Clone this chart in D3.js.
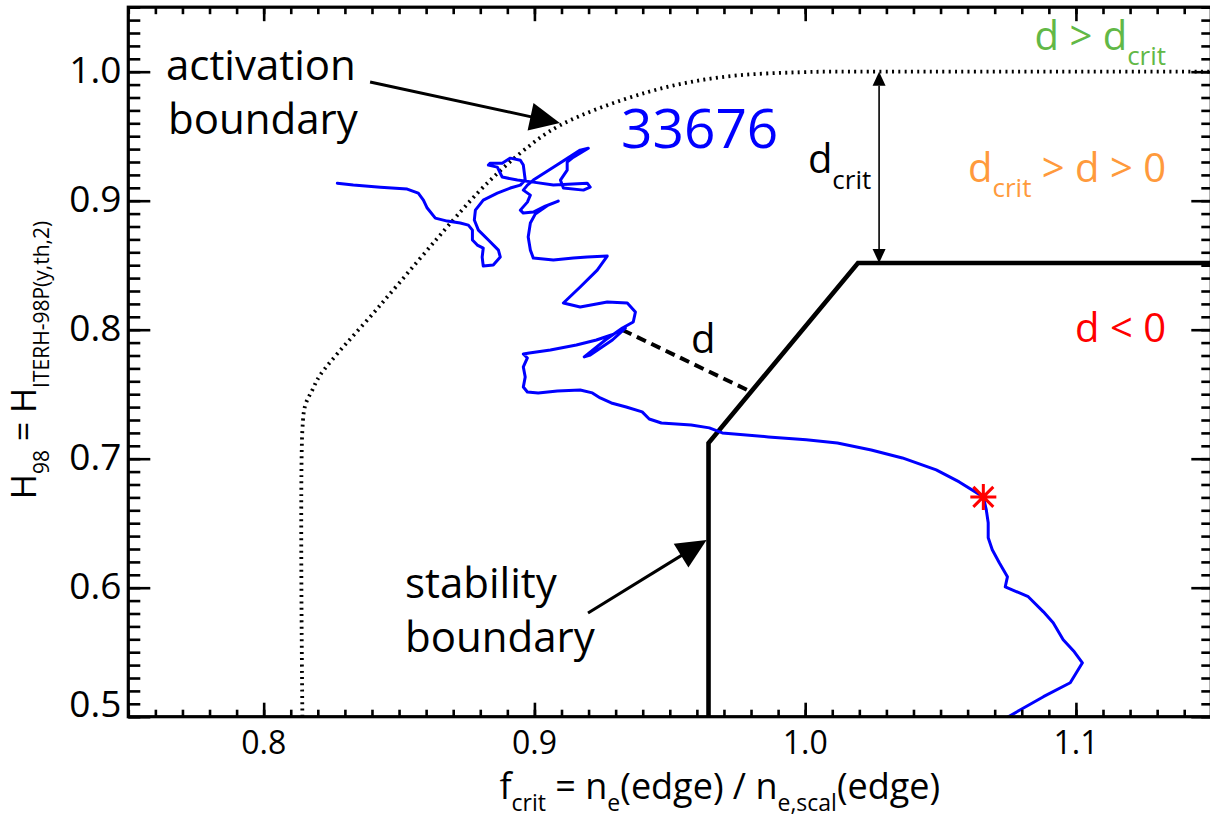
<!DOCTYPE html>
<html>
<head>
<meta charset="utf-8">
<script src="https://cdn.jsdelivr.net/npm/d3@7"></script>
<style>
  body { margin: 0; background: #fff; }
  svg { display: block; }
  text { font-family: "Open Sans", "DejaVu Sans", sans-serif; fill: #000; }
</style>
</head>
<body>
<svg id="chart" width="1210" height="819"></svg>
<script>
// Discharge 33676: trajectory in the (f_crit, H98) plane
const trajF = [
  0.8272,0.8331,0.8431,0.8530,0.8571,0.8590,0.8604,0.8634,0.8678,0.8726,
  0.8756,0.8771,0.8771,0.8789,0.8811,0.8807,0.8811,0.8848,0.8874,0.8867,
  0.8830,0.8793,0.8778,0.8782,0.8811,0.8863,0.8911,0.8948,0.8966,0.8959,
  0.8948,0.8911,0.8881,0.8837,0.8830,0.8863,0.8881,0.8937,0.8996,0.9070,
  0.9195,0.9206,0.9181,0.9107,0.9096,0.9121,0.9121,0.9144,0.9199,0.9169,
  0.9070,0.8996,0.8974,0.8959,0.8985,0.8974,0.8948,0.8959,0.8996,0.9040,
  0.9088,0.9051,0.9003,0.8985,0.8977,0.8985,0.8996,0.9070,0.9144,0.9195,
  0.9269,0.9232,0.9169,0.9107,0.9169,0.9269,0.9343,0.9373,0.9365,0.9325,
  0.9262,0.9184,0.9206,0.9288,0.9336,0.9284,0.9229,0.9155,0.9059,0.8981,
  0.8959,0.8974,0.8959,0.8966,0.8959,0.8974,0.9014,0.9085,0.9169,0.9214,
  0.9243,0.9284,0.9339,0.9398,0.9424,0.9469,0.9579,0.9646,0.9694,0.9864,
  1.0004,1.0119,1.0244,1.0359,1.0484,1.0569,1.0658,1.0669,1.0676,1.0676,
  1.0691,1.0717,1.0747,1.0739,1.0824,1.0880,1.0916,1.0953,1.0994,1.1024,
  1.0979,1.0880,1.0795,1.0747
];
const trajH = [
  0.9136,0.9121,0.9105,0.9090,0.9059,0.9005,0.8943,0.8865,0.8842,0.8827,
  0.8811,0.8772,0.8695,0.8656,0.8633,0.8563,0.8493,0.8501,0.8563,0.8617,
  0.8695,0.8772,0.8850,0.8927,0.9005,0.9059,0.9098,0.9121,0.9160,0.9276,
  0.9314,0.9330,0.9291,0.9291,0.9276,0.9260,0.9183,0.9160,0.9144,0.9121,
  0.9136,0.9105,0.9082,0.9098,0.9160,0.9237,0.9299,0.9338,0.9407,0.9392,
  0.9260,0.9160,0.9121,0.9082,0.9043,0.8989,0.8927,0.8904,0.8912,0.8958,
  0.8997,0.8966,0.8896,0.8827,0.8718,0.8617,0.8555,0.8540,0.8555,0.8563,
  0.8571,0.8462,0.8331,0.8207,0.8176,0.8215,0.8207,0.8137,0.8060,0.8013,
  0.7920,0.7789,0.7804,0.7920,0.8013,0.7959,0.7920,0.7881,0.7843,0.7820,
  0.7812,0.7781,0.7711,0.7634,0.7556,0.7517,0.7510,0.7525,0.7533,0.7510,
  0.7471,0.7432,0.7401,0.7363,0.7308,0.7277,0.7262,0.7239,0.7200,0.7169,
  0.7146,0.7122,0.7068,0.7006,0.6913,0.6820,0.6704,0.6603,0.6503,0.6387,
  0.6294,0.6193,0.6084,0.6007,0.5930,0.5813,0.5728,0.5596,0.5503,0.5418,
  0.5263,0.5155,0.5054,0.4995
];

// Activation boundary (dotted)
const activationF = [0.8143,0.8143,0.8154,0.8180,0.8209,0.8431,0.8700,0.8811,0.8948,0.9096,0.9417,0.9687,0.9982,1.0240,1.1500];
const activationH = [0.5000,0.7223,0.7417,0.7533,0.7649,0.8191,0.8850,0.9105,0.9369,0.9586,0.9841,0.9957,0.9996,1.0000,1.0000];

// Stability boundary (solid)
const stabilityF = [0.9643, 0.9643, 1.0195, 1.1500];
const stabilityH = [0.5000, 0.7122, 0.8517, 0.8517];

// Marked time point
const markerF = 1.0658;
const markerH = 0.6704;

// Distance d from the trajectory to the stability boundary
const distanceF = [0.9325, 0.9798];
const distanceH = [0.7998, 0.7521];

// d_crit: gap between the two boundaries
const dcritF = 1.0273;
const dcritH = [1.0000, 0.8517];

// Axis ticks
const xMajorTicks = [0.8, 0.9, 1.0, 1.1];
const xTickLabels = ["0.8", "0.9", "1.0", "1.1"];
const yMajorTicks = [0.5, 0.6, 0.7, 0.8, 0.9, 1.0];
const yTickLabels = ["0.5", "0.6", "0.7", "0.8", "0.9", "1.0"];

const svg = d3.select("#chart");
const x = d3.scaleLinear().domain([0.75, 1.15]).range([128.3, 1211.3]);
const y = d3.scaleLinear().domain([0.5, 1.05]).range([716.7, 7.2]);
const [x0, x1] = x.range();
const [yB, yT] = y.range();

// clip for data marks
svg.append("defs").append("clipPath").attr("id", "plotClip")
  .append("rect").attr("x", x0).attr("y", yT).attr("width", x1 - x0).attr("height", yB - yT);

const plot = svg.append("g").attr("clip-path", "url(#plotClip)");
const line = d3.line().x(d => x(d[0])).y(d => y(d[1]));

// activation boundary
plot.append("path")
  .datum(activationF.map((f, i) => [f, activationH[i]]))
  .attr("d", line.curve(d3.curveCatmullRom.alpha(0.5)))
  .attr("fill", "none").attr("stroke", "#000")
  .attr("stroke-width", 3.8).attr("stroke-dasharray", "2,4.3");

// stability boundary
plot.append("path")
  .datum(stabilityF.map((f, i) => [f, stabilityH[i]]))
  .attr("d", line.curve(d3.curveLinear))
  .attr("fill", "none").attr("stroke", "#000")
  .attr("stroke-width", 4.6).attr("stroke-linejoin", "miter");

// distance d
plot.append("path")
  .datum(distanceF.map((f, i) => [f, distanceH[i]]))
  .attr("d", line.curve(d3.curveLinear))
  .attr("fill", "none").attr("stroke", "#000")
  .attr("stroke-width", 4).attr("stroke-dasharray", "10,6");

// trajectory
plot.append("path")
  .datum(trajF.map((f, i) => [f, trajH[i]]))
  .attr("d", line.curve(d3.curveLinear))
  .attr("fill", "none").attr("stroke", "#0000ff")
  .attr("stroke-width", 3).attr("stroke-linejoin", "round").attr("stroke-linecap", "round");

// asterisk marker
plot.append("path")
  .attr("transform", `translate(${x(markerF)},${y(markerH)})`)
  .attr("d", "M-13,0H13M0,-13V13M-10,-10L10,10M-10,10L10,-10")
  .attr("stroke", "#ff0000").attr("stroke-width", 3).attr("fill", "none");

// d_crit double arrow
(function () {
  const px = x(dcritF), pTop = y(dcritH[0]), pBot = y(dcritH[1]);
  const hl = 14, hw = 6.5;
  svg.append("line").attr("x1", px).attr("x2", px)
    .attr("y1", pTop + hl).attr("y2", pBot - hl)
    .attr("stroke", "#000").attr("stroke-width", 1.6);
  svg.append("path").attr("d", `M${px},${pTop}L${px - hw},${pTop + hl}L${px + hw},${pTop + hl}Z`).attr("fill", "#000");
  svg.append("path").attr("d", `M${px},${pBot}L${px - hw},${pBot - hl}L${px + hw},${pBot - hl}Z`).attr("fill", "#000");
})();

// pointer arrows to the boundaries
function pointer(f0, h0, f1, h1) {
  const ax = x(f0), ay = y(h0), bx = x(f1), by = y(h1);
  const len = Math.hypot(bx - ax, by - ay);
  const ux = (bx - ax) / len, uy = (by - ay) / len;
  const hl = 30, hw = 14;
  const cx = bx - ux * hl, cy = by - uy * hl;
  svg.append("line").attr("x1", ax).attr("y1", ay).attr("x2", cx + ux * 2).attr("y2", cy + uy * 2)
    .attr("stroke", "#000").attr("stroke-width", 3);
  svg.append("path")
    .attr("d", `M${bx},${by}L${cx - uy * hw},${cy + ux * hw}L${cx + uy * hw},${cy - ux * hw}Z`)
    .attr("fill", "#000");
}
pointer(0.8393, 0.9920, 0.9094, 0.9602);
pointer(0.9198, 0.5804, 0.9636, 0.6370);

// annotation text
function label(f, h, parts, opts) {
  const t = svg.append("text")
    .attr("x", x(f)).attr("y", y(h))
    .attr("font-size", opts.size)
    .attr("text-anchor", opts.anchor || "start")
    .style("fill", opts.color || "#000");
  let shifted = false;
  parts.forEach(p => {
    const sub = typeof p === "object";
    const ts = t.append("tspan").text(sub ? p.sub : p);
    if (sub) {
      ts.attr("font-size", opts.subSize);
      if (!shifted) { ts.attr("dy", opts.subDy); shifted = true; }
    } else if (shifted) {
      ts.attr("dy", -opts.subDy); shifted = false;
    }
  });
  return t;
}
label(0.7639, 0.9936, ["activation"], { size: 42 });
label(0.7647, 0.9517, ["boundary"], { size: 42 });
label(0.8522, 0.5920, ["stability"], { size: 42 });
label(0.8522, 0.5501, ["boundary"], { size: 42 });
label(0.9320, 0.9409, ["33676"], { size: 55, color: "#0000ff" });
label(0.9578, 0.7819, ["d"], { size: 40 });
label(1.0010, 0.9215, ["d", { sub: "crit" }], { size: 40, subSize: 26, subDy: 16 });
label(1.1333, 1.0168, ["d > d", { sub: "crit" }], { size: 40, subSize: 26, subDy: 15, anchor: "end", color: "#62b846" });
label(1.1333, 0.9145, ["d", { sub: "crit" }, " > d > 0"], { size: 40, subSize: 26, subDy: 15, anchor: "end", color: "#ff9a3c" });
label(1.1333, 0.7905, ["d < 0"], { size: 40, anchor: "end", color: "#ff0000" });

// axes: ticks on all four sides, pointing inward
function ticks(axisGen, tf, values, size) {
  const g = svg.append("g").attr("transform", tf)
    .call(axisGen.tickValues(values).tickSize(size).tickSizeOuter(0).tickFormat(""));
  g.select(".domain").remove();
  g.selectAll("line").attr("stroke", "#000").attr("stroke-width", 2.6);
}
const xMinor = x.ticks(40), yMinor = y.ticks(55);
ticks(d3.axisBottom(x), `translate(0,${yB})`, xMinor, -7);
ticks(d3.axisBottom(x), `translate(0,${yB})`, xMajorTicks, -14);
ticks(d3.axisTop(x), `translate(0,${yT})`, xMinor, -7);
ticks(d3.axisTop(x), `translate(0,${yT})`, xMajorTicks, -14);
ticks(d3.axisLeft(y), `translate(${x0},0)`, yMinor, -12);
ticks(d3.axisLeft(y), `translate(${x0},0)`, yMajorTicks, -22);
ticks(d3.axisRight(y), `translate(${x1},0)`, yMinor, -10);
ticks(d3.axisRight(y), `translate(${x1},0)`, yMajorTicks, -20);

svg.append("rect").attr("x", x0).attr("y", yT).attr("width", x1 - x0).attr("height", yB - yT)
  .attr("fill", "none").attr("stroke", "#000").attr("stroke-width", 3.2);

// tick labels
svg.append("g").selectAll("text").data(xMajorTicks).join("text")
  .attr("x", d => x(d)).attr("y", yB + 37)
  .attr("text-anchor", "middle").attr("font-size", 32)
  .text((d, i) => xTickLabels[i]);
svg.append("g").selectAll("text").data(yMajorTicks).join("text")
  .attr("x", x0 - 7).attr("y", d => Math.min(y(d) + 11, yB))
  .attr("text-anchor", "end").attr("font-size", 37)
  .text((d, i) => yTickLabels[i]);

// axis titles
label(0, 0, ["f", { sub: "crit" }, " = n", { sub: "e" }, "(edge) / n", { sub: "e,scal" }, "(edge)"],
  { size: 36, subSize: 23, subDy: 12, anchor: "middle" })
  .attr("x", (x0 + x1) / 2 + 50).attr("y", 799);
label(0, 0, ["H", { sub: "98" }, " = H", { sub: "ITERH-98P(y,th,2)" }],
  { size: 34, subSize: 21, subDy: 13, anchor: "middle" })
  .attr("x", 0).attr("y", 0)
  .attr("transform", "translate(36,360) rotate(-90)");
</script>
</body>
</html>
